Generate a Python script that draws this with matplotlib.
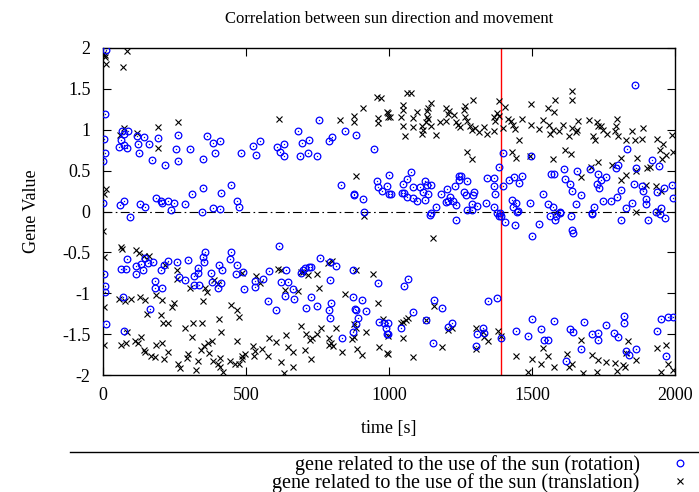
import numpy as np
import matplotlib
matplotlib.use('Agg')
import matplotlib.pyplot as plt
from matplotlib.lines import Line2D

plt.rcParams['font.family'] = ['Liberation Serif', 'DejaVu Serif']
plt.rcParams['font.size'] = 12

# (time [s], gene value)
rotation = [
    (9, 1.98), (7, 1.19), (3, 0.89), (7, 0.71), (0, 0.62), (1, 0.10), (68, 0.99), (62, 0.88), (56, 0.79),
    (75, 0.81), (85, 0.78), (89, 0.98), (72, 0.95), (118, 0.92), (121, 0.82), (143, 0.91), (125, 0.71),
    (162, 0.82), (172, 0.63), (192, 0.90), (218, 0.57), (256, 0.77), (263, 0.93), (262, 0.62), (303, 0.77),
    (362, 0.92), (386, 0.84), (409, 0.86), (393, 0.71), (350, 0.64), (481, 0.72), (448, 0.33), (414, 0.23),
    (350, 0.29), (310, 0.22), (287, 0.09), (184, 0.17), (203, 0.13), (206, 0.11), (227, 0.13), (247, 0.11),
    (239, 0.02), (129, 0.09), (147, 0.06), (75, 0.13), (58, 0.08), (347, -0.01), (386, 0.04), (409, 0.03),
    (467, 0.13), (474, 0.05), (94, -0.07),
    (524, 0.80), (534, 0.69), (550, 0.86), (607, 0.79), (618, 0.73), (634, 0.82), (634, 0.68), (682, 0.98),
    (697, 0.84), (719, 0.87), (689, 0.68), (718, 0.71), (747, 0.68), (754, 1.12), (791, 0.86), (801, 0.91),
    (847, 0.99), (886, 0.93), (946, 0.77), (831, 0.32), (877, 0.21), (879, 0.20), (910, 0.15), (914, 0.00),
    (958, 0.37), (962, 0.30), (974, 0.25), (992, 0.31), (999, 0.45), (1000, 0.22),
    (1008, 0.22), (1048, 0.34), (1064, 0.40), (1078, 0.48), (1083, 0.30), (1044, 0.23), (1052, 0.23),
    (1064, 0.18), (1083, 0.17), (1098, 0.13), (1108, 0.30), (1118, 0.24), (1126, 0.37), (1132, 0.32),
    (1146, 0.32), (1135, 0.21), (1126, 0.14), (1165, 0.05), (1182, 0.22), (1203, 0.28), (1214, 0.18),
    (1199, 0.12), (1207, 0.13), (1232, 0.31), (1225, 0.13), (1235, 0.08), (1244, 0.43), (1251, 0.43),
    (1246, 0.38), (1274, 0.37), (1262, 0.24), (1270, 0.20), (1298, 0.24), (1295, 0.20), (1289, 0.09),
    (1271, 0.02), (1291, 0.02), (1308, 0.07), (1338, 0.10), (1342, 0.41), (1367, 0.41), (1366, 0.31),
    (1371, 0.22), (1384, 0.54), (1398, 0.72), (1398, 0.31), (1368, 0.06), (1421, 0.39), (1438, 0.42),
    (1456, 0.35), (1464, 0.43), (1430, 0.14), (1444, 0.11), (1434, 0.05), (1450, 0.01), (1493, 0.11),
    (1497, 0.68), (1147, -0.02), (1388, -0.02),
    (1861, 1.55), (1831, 0.77), (1611, 0.52), (1565, 0.46), (1577, 0.46), (1614, 0.40), (1633, 0.34),
    (1641, 0.25), (1658, 0.50), (1673, 0.20), (1702, 0.52), (1732, 0.46), (1759, 0.42), (1741, 0.39),
    (1726, 0.34), (1734, 0.29), (1747, 0.13), (1716, 0.05), (1776, 0.13), (1793, 0.53), (1800, 0.57),
    (1798, 0.18), (1810, 0.26), (1830, 0.04), (1851, 0.11), (1864, 0.53), (1858, 0.34), (1886, 0.31),
    (1888, 0.25), (1900, 0.15), (1900, 0.09), (1918, 0.63), (1943, 0.56), (1962, 0.29), (1936, 0.24),
    (1991, 0.33), (1994, 0.17), (1951, 0.04), (1537, 0.21), (1555, 0.09), (1575, 0.06), (1598, 0.00),
    (1654, 0.09), (1711, -0.02),
    (3, -0.77), (7, -0.91), (6, -0.99), (10, -1.38), (71, -1.04), (73, -1.46), (165, -1.19), (85, -0.58),
    (62, -0.70), (81, -0.70), (117, -0.67), (117, -0.77), (132, -0.64), (141, -0.71), (147, -0.57),
    (159, -0.63), (176, -0.62), (183, -0.85), (182, -0.94), (208, -0.94), (204, -0.71), (212, -0.65),
    (226, -0.60), (260, -0.62), (265, -0.80), (287, -0.84), (297, -0.59), (318, -0.79), (318, -0.90),
    (334, -0.90), (332, -0.75), (331, -0.69), (348, -0.56), (352, -0.62), (358, -0.50), (379, -0.75),
    (406, -0.65), (417, -0.72), (382, -0.86), (414, -0.87), (401, -0.94), (444, -0.58), (448, -0.49),
    (470, -0.66), (466, -0.76), (494, -0.95),
    (615, -0.42), (760, -0.57), (815, -0.67), (795, -0.62), (726, -0.68), (720, -0.68), (706, -0.69),
    (700, -0.72), (691, -0.75), (640, -0.71), (579, -0.73), (559, -0.82), (530, -0.85), (531, -0.92),
    (489, -0.74), (621, -0.86), (647, -0.86), (665, -0.95), (636, -1.03), (668, -1.07), (578, -1.09),
    (605, -1.21), (728, -1.05), (709, -1.18), (749, -1.15), (795, -0.84), (798, -1.12), (789, -1.20),
    (792, -1.30), (837, -1.55), (873, -0.71), (875, -1.04), (881, -1.19), (886, -1.21), (907, -1.08),
    (918, -1.22), (892, -1.30), (885, -1.38), (875, -1.47), (960, -0.88), (966, -1.35), (982, -1.36),
    (988, -1.42), (993, -1.50),
    (1143, -0.04), (1235, -0.10), (1377, -0.02), (1386, -0.05), (1393, -0.05), (1407, -0.13),
    (1442, -0.17), (1448, -0.01), (1500, -0.30), (1065, -0.82), (1052, -0.91), (1157, -1.08),
    (1186, -1.18), (1084, -1.23), (1042, -1.43), (995, -1.36), (995, -1.50), (1129, -1.33), (1207, -1.41),
    (1219, -1.36), (1155, -1.61), (1304, -1.64), (1306, -1.50), (1330, -1.43), (1332, -1.49),
    (1345, -1.10), (1379, -1.06), (1393, -1.55), (1445, -1.46), (1485, -1.52), (1500, -1.32),
    (1523, -0.15), (1563, -0.06), (1579, -0.10), (1584, -0.06), (1598, -0.02), (1637, -0.05),
    (1640, -0.23), (1643, -0.26), (1709, -0.03), (1811, -0.10), (1907, -0.11), (1932, 0.00),
    (1947, -0.03), (1965, -0.08), (1533, -1.44), (1542, -1.57), (1557, -1.57), (1578, -1.34),
    (1619, -1.83), (1634, -1.44), (1642, -1.48), (1672, -1.68), (1681, -1.35), (1710, -1.50),
    (1731, -1.49), (1732, -1.57), (1759, -1.39), (1788, -1.49), (1800, -1.53), (1822, -1.28),
    (1822, -1.36), (1830, -1.71), (1838, -1.76), (1864, -1.68), (1937, -1.46), (1950, -1.31),
    (1977, -1.29), (1992, -1.29), (1967, -1.77),
]

translation = [
    (7, 1.92), (0, 1.93), (7, 1.89), (10, 1.80), (84, 1.96), (71, 1.77), (262, 1.10), (192, 1.03),
    (119, 0.96), (73, 1.02), (59, 0.94), (191, 0.78), (10, 0.28), (5, 0.22),
    (615, 1.13), (830, 1.12), (877, 1.17), (879, 1.10), (910, 1.26), (957, 1.40), (973, 1.39), (992, 1.22),
    (960, 1.14), (963, 1.08), (998, 1.15), (885, 0.43),
    (1064, 1.45), (1078, 1.45), (995, 1.21), (1005, 1.16), (1048, 1.30), (1048, 1.24), (1043, 1.15),
    (1050, 1.04), (1057, 0.92), (1084, 1.14), (1098, 1.22), (1085, 1.03), (1115, 1.05), (1118, 1.00),
    (1114, 0.95), (1131, 1.10), (1133, 1.16), (1132, 1.23), (1137, 1.27), (1146, 1.33), (1137, 1.13),
    (1146, 1.05), (1164, 0.93), (1179, 1.10), (1200, 1.26), (1209, 1.23), (1205, 1.19), (1198, 1.11),
    (1226, 1.18), (1234, 1.10), (1240, 1.06), (1247, 1.03), (1266, 1.29), (1261, 1.24), (1266, 1.16),
    (1273, 1.11), (1294, 1.36), (1284, 1.04), (1291, 1.00), (1301, 1.02), (1315, 0.97), (1333, 1.03),
    (1341, 0.95), (1368, 0.98), (1371, 1.11), (1366, 1.16), (1377, 1.21), (1384, 1.35), (1386, 1.17),
    (1407, 1.28), (1400, 1.02), (1417, 1.13), (1427, 1.11), (1435, 1.06), (1442, 1.01), (1464, 1.13),
    (1456, 0.87), (1430, 0.73), (1444, 0.65), (1494, 0.68), (1497, 1.32), (1497, 1.06), (1272, 0.73),
    (1291, 0.64),
    (1639, 1.47), (1639, 1.37), (1580, 1.36), (1555, 1.26), (1577, 1.22), (1524, 1.01), (1538, 1.12),
    (1560, 1.06), (1563, 0.95), (1573, 1.00), (1593, 0.98), (1609, 1.06), (1629, 0.92), (1640, 1.02),
    (1654, 0.97), (1658, 1.00), (1660, 1.11), (1698, 1.12), (1714, 0.92), (1720, 0.87), (1728, 1.10),
    (1732, 1.04), (1741, 1.04), (1748, 1.00), (1761, 0.95), (1790, 0.99), (1798, 1.13), (1794, 1.04),
    (1802, 0.92), (1829, 0.87), (1851, 0.98), (1860, 0.88), (1883, 0.89), (1888, 1.02), (1936, 0.89),
    (1957, 0.82), (1948, 0.75), (1990, 0.94), (1992, 0.73), (1967, 0.69), (1953, 0.64), (1913, 0.55),
    (1903, 0.53), (1868, 0.66), (1864, 0.49), (1810, 0.65), (1780, 0.57), (1732, 0.60), (1706, 0.55),
    (1615, 0.75), (1637, 0.70), (1572, 0.64), (1672, 0.42), (1810, 0.39), (1830, 0.45), (1899, 0.33),
    (1934, 0.31), (1950, 0.25), (1864, 0.00), (1586, -0.01), (1940, 0.01),
    (0, -0.24), (62, -0.44), (67, -0.46), (3, -0.56), (117, -0.47), (126, -0.51), (144, -0.55),
    (162, -0.55), (217, -0.65), (260, -0.72), (258, -0.83), (304, -0.93), (356, -0.94), (364, -0.99),
    (388, -0.84), (403, -0.89), (485, -0.75), (57, -1.07), (77, -1.09), (98, -1.07), (130, -1.04),
    (147, -1.08), (185, -1.02), (205, -1.08), (247, -1.12), (240, -1.17), (155, -1.25), (202, -1.26),
    (211, -1.36), (228, -1.36), (288, -1.43), (316, -1.37), (347, -1.36), (348, -1.10), (310, -1.54),
    (407, -1.32), (448, -1.14), (467, -1.21), (476, -1.29), (414, -1.48), (467, -1.58), (3, -1.17),
    (2, -1.63), (83, -1.47), (80, -1.61), (62, -1.63), (113, -1.58), (121, -1.61), (132, -1.54),
    (144, -1.69), (147, -1.72), (167, -1.77), (183, -1.78), (184, -1.63), (205, -1.61), (215, -1.80),
    (228, -1.72), (263, -1.87), (269, -1.92), (296, -1.74), (294, -1.79), (324, -1.94), (331, -1.83),
    (343, -1.69), (352, -1.65), (366, -1.61), (382, -1.59), (372, -1.73), (386, -1.83), (401, -1.87),
    (410, -1.90), (410, -1.79), (418, -1.96), (445, -1.83), (462, -1.86), (476, -1.87), (485, -1.77),
    (914, -0.06), (534, -0.79), (550, -0.88), (611, -0.70), (621, -0.71), (636, -0.96), (682, -0.97),
    (691, -0.74), (700, -0.74), (718, -0.78), (747, -0.77), (755, -0.93), (788, -0.63), (801, -0.61),
    (846, -1.01), (886, -0.71), (945, -0.77), (960, -1.12), (692, -1.40), (709, -1.50), (725, -1.57),
    (732, -1.55), (749, -1.50), (761, -1.42), (815, -1.43), (791, -1.55), (796, -1.61), (790, -1.63),
    (803, -1.64), (837, -1.72), (878, -1.38), (884, -1.43), (872, -1.56), (879, -1.54), (918, -1.47),
    (888, -1.68), (907, -1.76), (966, -1.66), (993, -1.73), (980, -1.32), (580, -1.55), (604, -1.60),
    (640, -1.51), (648, -1.66), (665, -1.72), (707, -1.70), (727, -1.81), (622, -1.84), (665, -1.90),
    (634, -1.97), (557, -1.68), (525, -1.65), (530, -1.71), (576, -1.77), (528, -1.77), (497, -1.74),
    (487, -1.81),
    (1155, -0.33), (995, -1.52), (998, -1.74), (1050, -1.55), (1041, -1.36), (1050, -1.35), (1058, -1.33),
    (1067, -1.30), (1083, -1.78), (1128, -1.33), (1157, -1.15), (1186, -1.66), (1207, -1.45),
    (1219, -1.43), (1303, -1.42), (1304, -1.68), (1327, -1.48), (1333, -1.53), (1347, -1.58),
    (1380, -1.46), (1392, -1.52), (1445, -1.77), (1500, -1.81), (1485, -1.96),
    (1531, -1.86), (1540, -1.67), (1555, -1.77), (1578, -1.90), (1621, -1.74), (1630, -1.90),
    (1641, -1.86), (1673, -1.57), (1679, -1.97), (1711, -1.76), (1731, -1.82), (1729, -1.96),
    (1759, -1.84), (1789, -1.85), (1798, -1.95), (1819, -1.88), (1825, -1.90), (1829, -1.73),
    (1837, -1.59), (1864, -1.82), (1936, -1.67), (1967, -1.63), (1977, -1.86), (1950, -1.96),
    (1992, -1.94),
]

marker_time = 1390  # red vertical line
x_ticks = [0, 500, 1000, 1500, 2000]
y_ticks = [-2, -1.5, -1, -0.5, 0, 0.5, 1, 1.5, 2]
y_ticklabels = ['-2', '-1.5', '-1', '-0.5', '0', '0.5', '1', '1.5', '2']
labels = ['gene related to the use of the sun (rotation)',
          'gene related to the use of the sun (translation)']

rot = np.array(rotation)
trans = np.array(translation)

W, H = 699, 492
fig = plt.figure(figsize=(W / 100, H / 100), dpi=100)
ax = fig.add_axes([103 / W, 1 - 375 / H, 572 / W, 327 / H])

ax.axhline(0, color='black', lw=0.8, ls=(0, (8, 3, 1.5, 3)), zorder=1)
ax.axvline(marker_time, color='red', lw=1.0, zorder=1)

ax.plot(trans[:, 0], trans[:, 1], ls='none', marker='x', ms=4.5, mew=0.8, color='black', zorder=2)
ax.plot(rot[:, 0], rot[:, 1], ls='none', marker='o', ms=4.8, mew=0.9, mfc='none', color='#0000ff',
        zorder=3)
ax.plot(rot[:, 0], rot[:, 1], ls='none', marker='o', ms=1.0, mew=0, color='#0000ff', zorder=3)

ax.set_xlim(0, 2000)
ax.set_ylim(-2, 2)
ax.set_xticks(x_ticks)
ax.set_yticks(y_ticks)
ax.set_yticklabels(y_ticklabels)
ax.tick_params(direction='in', top=True, right=True, length=6, width=0.8, labelsize=13, pad=9)
for s in ax.spines.values():
    s.set_linewidth(1.0)

ax.set_title('Correlation between sun direction and movement', fontsize=12, pad=18)
ax.set_xlabel('time [s]', fontsize=13, labelpad=11)
ax.set_ylabel('Gene Value', fontsize=13, labelpad=16)

# gnuplot style key below the plot: text first, symbol on the right
h_rot = Line2D([], [], ls='none', marker='o', ms=4.8, mew=0.9, mfc='none', color='#0000ff')
h_trans = Line2D([], [], ls='none', marker='x', ms=4.5, mew=0.8, color='black')
fig.legend([h_rot, h_trans], labels,
           loc='upper right', bbox_to_anchor=(690 / W, 1 - 455 / H), markerfirst=False,
           frameon=False, fontsize=14.5, labelspacing=-0.1, handletextpad=1.5, borderpad=0,
           borderaxespad=0, handlelength=1.0)
# top edge of the key box
fig.add_artist(Line2D([70 / W, 1.0], [1 - 452 / H, 1 - 452 / H], transform=fig.transFigure,
                      color='black', lw=1.0))

fig.savefig('out.png', dpi=100)
